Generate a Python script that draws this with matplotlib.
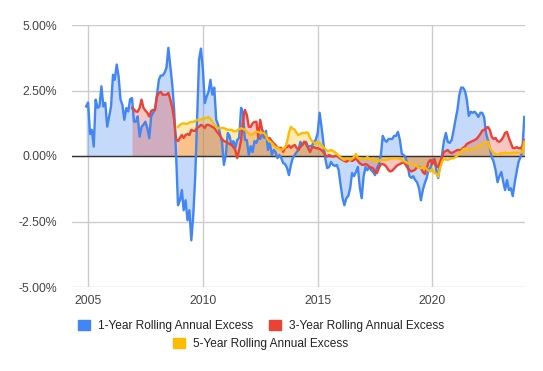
import matplotlib
matplotlib.use("Agg")
import matplotlib.pyplot as plt
import matplotlib.ticker as mticker
from matplotlib.patches import Patch
import pandas as pd

plt.rcParams['font.family'] = ['Liberation Sans', 'DejaVu Sans']

# Monthly series (percent), 1-year starts Dec 2004, 3-year Dec 2006, 5-year Dec 2008
one_year_start = "2004-12-01"
one_year = [
    1.89, 2.04, 0.84, 1.00, 0.36, 2.15, 1.84, 1.89, 2.66, 1.89, 2.03, 1.12, 1.51, 1.89, 3.10, 2.91,
    3.49, 3.04, 2.15, 1.95, 1.38, 1.83, 1.70, 2.17, 2.21, 1.31, 1.31, 1.51, 0.74, 1.11, 1.20, 1.31,
    1.07, 0.68, 1.51, 1.65, 1.76, 2.34, 2.91, 3.07, 3.07, 3.18, 3.37, 4.13, 3.42, 2.72, 1.76, 0.04,
    -1.88, -1.69, -1.30, -2.07, -1.69, -2.45, -2.07, -3.22, -2.26, -0.79, 1.38, 3.68, 4.10, 3.30,
    2.02, 2.26, 2.45, 2.91, 2.34, 2.61, 1.38, 1.19, 0.84, 0.54, -0.34, 0.04, 0.88, 0.77, 0.42, 0.57,
    0.31, 0.61, 0.69, 1.84, 1.65, 0.61, 0.61, 0.04, 0.38, 0.15, 0.57, 0.50, 0.69, 0.65, 0.88, 0.69,
    0.96, 0.23, 0.50, 0.04, 0.23, 0.15, -0.08, 0.04, -0.08, -0.27, -0.31, -0.46, -0.73, -0.34, -0.08,
    0.04, 0.15, 0.23, 0.54, 0.42, 0.50, 0.54, 0.34, 0.38, 0.38, 0.54, 0.61, 0.88, 1.65, 1.15, 0.54,
    -0.08, -0.46, -0.42, -0.23, -0.34, -0.38, -0.34, -0.54, -1.11, -1.61, -1.88, -1.61, -1.53, -1.23,
    -0.65, -0.77, -0.61, -0.42, -1.19, -1.61, -0.77, -0.42, -0.54, -0.42, -0.54, -0.61, -0.73, -0.46,
    -0.31, 0.00, 0.77, 0.61, 0.54, 0.65, 0.65, 0.65, 0.77, 0.77, 0.92, 0.61, 0.08, 0.04, -0.08, -0.34,
    -0.77, -0.84, -0.77, -0.92, -1.00, -1.23, -1.69, -1.30, -1.03, -0.84, -0.50, -0.46, -0.15, -0.15,
    -0.54, -0.84, -0.34, 0.04, 0.57, 0.88, 0.54, 0.50, 0.61, 0.96, 1.38, 1.76, 2.30, 2.61, 2.61, 2.49,
    2.15, 1.53, 1.69, 1.65, 1.69, 1.61, 1.49, 1.65, 1.65, 1.49, 0.88, 0.61, 0.31, -0.04, -0.23, -0.54,
    -1.00, -0.77, -0.61, -1.00, -1.30, -0.92, -1.30, -1.23, -1.53, -1.03, -0.61, -0.23, -0.04, 0.23, 1.49,
]

three_year_start = "2006-12-01"
three_year = [
    1.83, 1.78, 1.70, 1.69, 1.84, 2.15, 1.84, 1.74, 1.65, 1.51, 1.72, 1.76, 1.76, 2.26, 2.41, 2.45,
    2.34, 2.34, 2.34, 2.41, 2.15, 1.84, 1.38, 0.65, 0.57, 0.69, 0.80, 0.69, 0.80, 0.84, 0.80, 1.00,
    0.96, 0.96, 1.07, 1.12, 1.19, 1.15, 1.07, 1.19, 1.19, 1.15, 1.11, 1.07, 0.96, 0.87, 0.77, 0.65,
    0.57, 0.54, 0.50, 0.46, 0.42, 0.34, 0.23, -0.08, 0.23, 0.61, 1.38, 1.76, 1.57, 1.12, 1.11, 1.25,
    1.30, 1.31, 0.69, 1.38, 1.00, 0.88, 0.73, 0.68, 0.68, 0.57, 0.48, 0.42, 0.31, 0.31, 0.31, 0.16,
    0.31, 0.34, 0.40, 0.31, 0.38, 0.42, 0.31, 0.23, 0.34, 0.42, 0.55, 0.46, 0.31, 0.15, 0.31, 0.34,
    0.30, 0.30, 0.27, 0.23, 0.15, 0.04, -0.02, 0.04, 0.00, -0.03, 0.00, 0.02, -0.06, -0.11, -0.15,
    -0.19, -0.22, -0.17, -0.15, -0.19, -0.15, -0.09, -0.19, -0.28, -0.33, -0.34, -0.31, -0.34, -0.41,
    -0.44, -0.47, -0.61, -0.65, -0.46, -0.31, -0.31, -0.34, -0.42, -0.54, -0.59, -0.56, -0.48, -0.40,
    -0.34, -0.31, -0.27, -0.23, -0.34, -0.46, -0.54, -0.59, -0.56, -0.52, -0.42, -0.42, -0.47, -0.61,
    -0.69, -0.46, -0.23, -0.15, -0.31, -0.11, -0.38, -0.42, -0.23, -0.04, 0.15, 0.19, 0.23, 0.15, 0.11,
    0.15, 0.19, 0.23, 0.23, 0.23, 0.31, 0.36, 0.46, 0.50, 0.54, 0.57, 0.61, 0.65, 0.74, 0.84, 0.96,
    1.00, 1.05, 1.11, 1.00, 0.73, 0.65, 0.69, 0.57, 0.54, 0.61, 0.73, 0.88, 0.92, 0.69, 0.50, 0.31,
    0.30, 0.34, 0.30, 0.29, 0.38, 0.61,
]

five_year_start = "2008-12-01"
five_year = [
    1.11, 1.19, 1.23, 1.25, 1.23, 1.23, 1.28, 1.30, 1.30, 1.34, 1.38, 1.38, 1.40, 1.44, 1.44, 1.46,
    1.49, 1.42, 1.30, 1.21, 1.11, 1.06, 1.07, 1.07, 1.07, 1.03, 1.00, 1.00, 1.00, 0.96, 0.94, 0.98,
    1.03, 1.06, 1.03, 1.00, 0.92, 0.86, 0.80, 0.84, 0.88, 0.92, 0.92, 0.88, 0.88, 0.88, 0.77, 0.61,
    0.56, 0.50, 0.40, 0.34, 0.31, 0.27, 0.23, 0.27, 0.34, 0.54, 0.88, 1.11, 1.05, 1.00, 0.88, 0.80,
    0.84, 0.88, 0.87, 0.90, 0.88, 0.69, 0.57, 0.52, 0.44, 0.54, 0.50, 0.42, 0.34, 0.27, 0.19, 0.19,
    0.23, 0.19, 0.15, 0.08, 0.02, -0.06, -0.11, -0.15, -0.11, -0.10, -0.15, -0.10, -0.04, 0.08, -0.08,
    -0.09, -0.10, -0.13, -0.11, -0.04, -0.11, -0.15, -0.09, -0.22, -0.22, -0.19, -0.15, -0.15, -0.15,
    -0.15, -0.13, -0.10, -0.09, -0.09, -0.09, -0.09, -0.11, -0.15, -0.19, -0.23, -0.27, -0.31, -0.34,
    -0.34, -0.36, -0.40, -0.44, -0.47, -0.44, -0.42, -0.50, -0.56, -0.59, -0.50, -0.65, -0.67, -0.79,
    -0.46, -0.23, -0.11, -0.13, -0.15, -0.11, -0.09, -0.09, -0.04, 0.02, 0.11, 0.16, 0.25, 0.29, 0.23,
    0.23, 0.23, 0.27, 0.30, 0.33, 0.36, 0.40, 0.44, 0.49, 0.52, 0.55, 0.31, 0.19, 0.11, 0.08, 0.04,
    0.08, 0.11, 0.11, 0.13, 0.11, 0.11, 0.11, 0.13, 0.13, 0.13, 0.13, 0.13, 0.15, 0.55,
]

series_names = ["1-Year Rolling Annual Excess", "3-Year Rolling Annual Excess",
                "5-Year Rolling Annual Excess"]
colors = ["#4285F4", "#EA4335", "#FBBC04"]
x_ticks = ["2005", "2010", "2015", "2020"]
y_ticks = [-5.0, -2.5, 0.0, 2.5, 5.0]

fig = plt.figure(figsize=(5.43, 3.71), dpi=100)
ax = fig.add_axes([72 / 543, 1 - 287 / 371, (525 - 72) / 543, (287 - 25) / 371])

starts = [one_year_start, three_year_start, five_year_start]
values = [one_year, three_year, five_year]
for i, (st, vals, col) in enumerate(zip(starts, values, colors)):
    d = pd.date_range(st, periods=len(vals), freq="MS")
    ax.fill_between(d, vals, 0, color=col, alpha=0.3, linewidth=0, zorder=2 + i * 0.1)
for i, (st, vals, col) in enumerate(zip(starts, values, colors)):
    d = pd.date_range(st, periods=len(vals), freq="MS")
    ax.plot(d, vals, color=col, lw=1.7, zorder=4 + i * 0.1, solid_joinstyle="round")

ax.axhline(0, color="#333333", lw=1, zorder=3)

ax.set_ylim(-5, 5)
ax.set_xlim(pd.Timestamp("2004-04-20"), pd.Timestamp("2024-01-12"))
ax.set_yticks(y_ticks)
ax.yaxis.set_major_formatter(mticker.FuncFormatter(lambda v, p: f"{v:.2f}%"))
ax.set_xticks([pd.Timestamp(f"{t}-01-01") for t in x_ticks])
ax.set_xticklabels(x_ticks)
ax.grid(True, color="#cccccc", lw=1, zorder=0)
ax.set_axisbelow(True)
for s in ax.spines.values():
    s.set_visible(False)
ax.tick_params(length=0, labelsize=8.8, colors="#444444", pad=6)
ax.tick_params(axis="y", pad=10.8)

handles = [Patch(facecolor=c, edgecolor=c) for c in colors]
leg_kw = dict(loc="center", frameon=False, fontsize=8.6, handlelength=1.0, handleheight=1.0,
              handletextpad=0.67, columnspacing=1.35, labelcolor="#222222")
leg1 = fig.legend(handles[:2], series_names[:2], bbox_to_anchor=(261 / 543, 1 - 326 / 371),
                  ncol=2, **leg_kw)
leg2 = fig.legend(handles[2:], series_names[2:], bbox_to_anchor=(261 / 543, 1 - 344 / 371),
                  ncol=1, **leg_kw)

fig.savefig("out.png", dpi=100)
